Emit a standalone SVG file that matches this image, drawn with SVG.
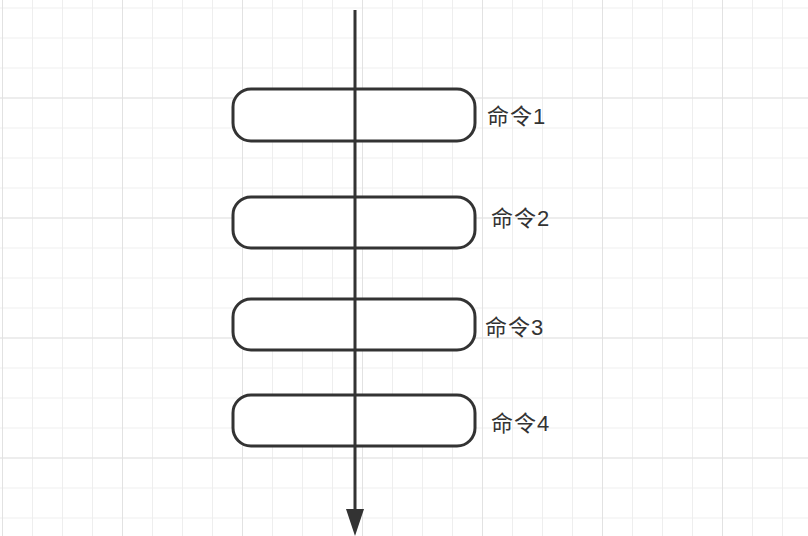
<svg xmlns="http://www.w3.org/2000/svg" width="808" height="536" viewBox="0 0 808 536">
<defs>
<pattern id="minor" x="2" y="7.5" width="30" height="30" patternUnits="userSpaceOnUse">
<path d="M0 0.5H30M0.5 0V30" fill="none" stroke="#eeeeee" stroke-width="1"/>
</pattern>
<pattern id="major" x="2" y="-22.5" width="120" height="120" patternUnits="userSpaceOnUse">
<path d="M0 0.5H120M0.5 0V120" fill="none" stroke="#e2e2e2" stroke-width="1"/>
</pattern>
<style>
.box{fill:#fff;stroke:#333;stroke-width:3}
.lbl{font-family:"Liberation Sans","Noto Sans CJK SC",sans-serif;font-size:22px;letter-spacing:1px;fill:#333}
.conn{stroke:#333;stroke-width:3;fill:none}
</style>
</defs>
<rect width="808" height="536" fill="#fff"/>
<rect width="808" height="536" fill="url(#minor)"/>
<rect width="808" height="536" fill="url(#major)"/>
<g id="node1"><rect class="box" x="233" y="89" width="242" height="52" rx="18"/><text class="lbl" x="487" y="124">命令1</text></g>
<g id="node2"><rect class="box" x="233" y="197" width="242" height="51" rx="18"/><text class="lbl" x="491" y="226">命令2</text></g>
<g id="node3"><rect class="box" x="233" y="299" width="242" height="51" rx="18"/><text class="lbl" x="485" y="335">命令3</text></g>
<g id="node4"><rect class="box" x="233" y="395" width="242" height="51" rx="18"/><text class="lbl" x="491" y="431">命令4</text></g>
<g id="connectors">
<line class="conn" x1="355" y1="10" x2="355" y2="509"/>
<path d="M346 509 L364 509 L355 536 Z" fill="#333"/>
</g>
</svg>
